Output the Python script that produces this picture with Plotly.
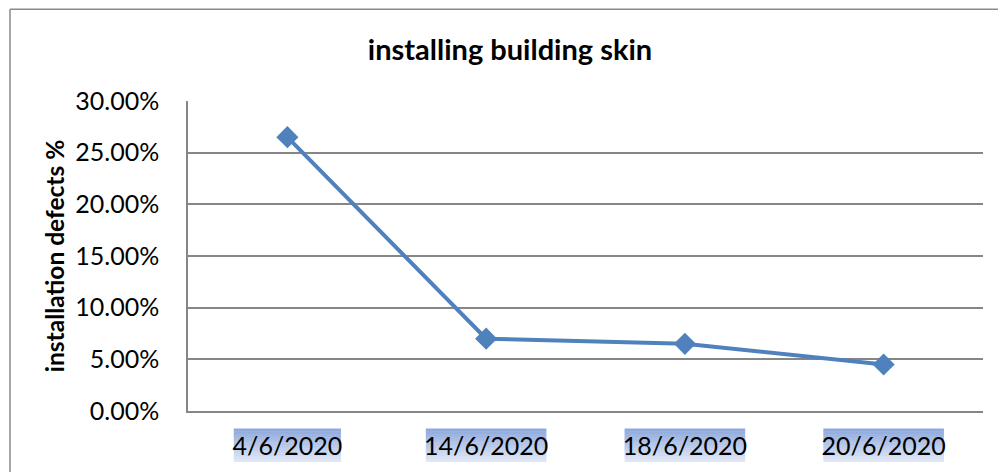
import plotly.graph_objects as go

categories = ["4/6/2020", "14/6/2020", "18/6/2020", "20/6/2020"]
defects = [0.265, 0.070, 0.065, 0.045]
y_ticks = [0.0, 0.05, 0.10, 0.15, 0.20, 0.25, 0.30]

W, H = 998, 472
# plot area in reference pixels: left 188, right 983, top 101, bottom 411.5
ML = 188
MT = 101
MR = W - 983
MB = H - 411.5
plot_w = W - ML - MR
plot_h = H - MT - MB

def py_paper(py):
    return (H - MB - py) / plot_h

def px_paper(px):
    return (px - ML) / plot_w

fig = go.Figure()
fig.add_trace(go.Scatter(
    x=categories, y=defects, mode="lines+markers",
    line=dict(color="#4F81BD", width=4),
    marker=dict(symbol="diamond", size=17, color="#4F81BD"),
    showlegend=False,
))

border = dict(color="#8A8A8A", width=1.5)
shapes = [
    dict(type="line", xref="paper", yref="paper", x0=px_paper(10), x1=px_paper(10),
         y0=py_paper(480), y1=py_paper(9), line=border, layer="below"),
    dict(type="line", xref="paper", yref="paper", x0=px_paper(10), x1=px_paper(1000),
         y0=py_paper(9), y1=py_paper(9), line=border, layer="below"),
]

top_c = (0x8F, 0xAA, 0xDD)
bot_c = (0xDE, 0xE6, 0xF5)
n_strips = 12
y_top_px, y_bot_px = 429, 462
for i, cat in enumerate(categories):
    cx = ML + (i + 0.5) * plot_w / len(categories)
    half = len(cat) * 13.4 / 2
    for s in range(n_strips):
        t = s / (n_strips - 1)
        c = tuple(round(top_c[k] + (bot_c[k] - top_c[k]) * t) for k in range(3))
        y0 = y_top_px + (y_bot_px - y_top_px) * s / n_strips
        y1 = y_top_px + (y_bot_px - y_top_px) * (s + 1) / n_strips
        shapes.append(dict(type="rect", xref="paper", yref="paper",
                           x0=px_paper(cx - half), x1=px_paper(cx + half),
                           y0=py_paper(y1 + 0.5), y1=py_paper(y0),
                           line=dict(width=0), fillcolor="rgb(%d,%d,%d)" % c, layer="below"))

fig.update_layout(
    width=W, height=H,
    margin=dict(l=ML, r=MR, t=MT, b=MB),
    paper_bgcolor="white", plot_bgcolor="white",
    font=dict(family="Lato", color="black"),
    title=dict(text="<b>installing building skin</b>", x=510 / W, xanchor="center",
               y=1 - 50 / H, yanchor="middle", font=dict(size=29, family="Lato")),
    shapes=shapes,
    xaxis=dict(type="category", range=[-0.5, len(categories) - 0.5],
               showgrid=False, showline=True, linecolor="#868686", linewidth=1.5,
               ticks="", tickfont=dict(size=25, family="Lato"), ticklabelstandoff=12,
               zeroline=False),
    yaxis=dict(range=[0, 0.30], tickvals=y_ticks, tickformat=".2%",
               showgrid=True, gridcolor="#868686", gridwidth=1.5,
               showline=True, linecolor="#868686", linewidth=1.5,
               ticks="", tickfont=dict(size=25, family="Lato"), ticklabelstandoff=22,
               zeroline=False,
               title=dict(text="<b>installation defects %</b>", font=dict(size=24.5, family="Lato"),
                          standoff=4)),
)

fig.write_html(
    "out.html",
    config={"displayModeBar": False},
    post_script="document.body.style.margin='0px';document.body.style.overflow='hidden';",
)
